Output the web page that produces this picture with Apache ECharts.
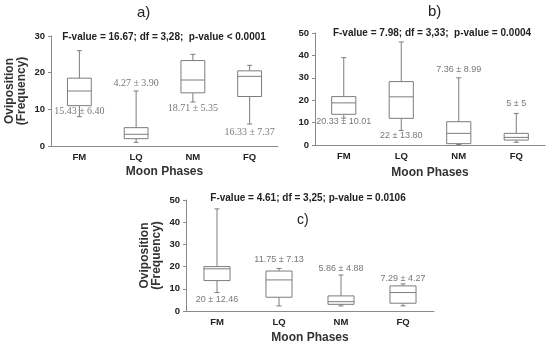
<!DOCTYPE html>
<html><head><meta charset="utf-8">
<script src="https://cdn.jsdelivr.net/npm/echarts@6/dist/echarts.min.js"></script>
<style>html,body{margin:0;padding:0;background:#fff}#c{width:550px;height:345px}</style>
</head><body><div id="c"></div>
<script>
// ---------- data ----------
const categories = ['FM', 'LQ', 'NM', 'FQ'];
// [min, Q1, median, Q3, max]
const boxA = [[8, 11, 15, 18.5, 26], [1, 2, 3.2, 5, 15], [12, 14.5, 18, 23.3, 25], [6, 13.5, 19, 20.5, 22]];
const boxB = [[12, 13.7, 18.8, 21.6, 39], [6.5, 11.9, 21.5, 28.3, 46], [0.2, 0.6, 5.2, 10.4, 30], [1.2, 2.2, 3.4, 5.2, 14.1]];
const boxC = [[8.3, 13.7, 19, 20, 46], [2.3, 6.2, 14, 18, 19.2], [2.3, 3, 4.2, 6.8, 16.2], [2.3, 3.5, 8.3, 11.3, 12.2]];
// mean ± sd annotations and the value they sit at
const labelsA = ['15.43 ± 6.40', '4.27 ± 3.90', '18.71 ± 5.35', '16.33 ± 7.37'];
const labelYA = [9.4, 17.2, 10.3, 3.7];
const labelsB = ['20.33 ± 10.01', '22 ± 13.80', '7.36 ± 8.99', '5 ± 5'];
const labelYB = [10.4, 4.2, 33.5, 18.3];
const labelsC = ['20 ± 12.46', '11.75 ± 7.13', '5.86 ± 4.88', '7.29 ± 4.27'];
const labelYC = [5, 23, 19.2, 14.7];
const yTicksA = {max: 30, interval: 10};
const yTicksBC = {max: 50, interval: 10};
const statA = 'F-value = 16.67; df = 3,28;  p-value < 0.0001';
const statB = 'F-value = 7.98; df = 3,33;  p-value = 0.0004';
const statC = 'F-value = 4.61; df = 3,25; p-value = 0.0106';

// ---------- chart ----------
const axisColor = '#8a8a8a';
const boxColor = '#7c7c7c';
const grids = [
  {left: 51, right: 272, top: 36, bottom: 199},
  {left: 315, right: 5, top: 33, bottom: 200},
  {left: 186, right: 116, top: 200, bottom: 34}
];
const nameGaps = [20, 22, 21];
function xAx(i) {
  return {
    type: 'category', gridIndex: i, data: categories,
    axisLine: {lineStyle: {color: axisColor}},
    axisTick: {lineStyle: {color: axisColor}, length: 3},
    axisLabel: {color: '#222', fontWeight: 'bold', fontSize: 9.5, fontFamily: 'Liberation Sans', margin: 6},
    name: 'Moon Phases', nameLocation: 'middle', nameGap: nameGaps[i],
    nameTextStyle: {color: '#333', fontWeight: 'bold', fontSize: 12, fontFamily: 'Liberation Sans'}
  };
}
function yAx(i, t, withName) {
  const o = {
    type: 'value', gridIndex: i, min: 0, max: t.max, interval: t.interval,
    splitLine: {show: false},
    axisLine: {show: true, lineStyle: {color: axisColor}},
    axisTick: {show: true, lineStyle: {color: axisColor}, length: 3},
    axisLabel: {color: '#222', fontWeight: 'bold', fontSize: 9.5, fontFamily: 'Liberation Sans', margin: 6}
  };
  if (withName) {
    o.name = 'Oviposition\n(Frequency)';
    o.nameLocation = 'middle';
    o.nameGap = 23;
    o.nameTextStyle = {color: '#333', fontWeight: 'bold', fontSize: 12, fontFamily: 'Liberation Sans', lineHeight: 12};
  }
  return o;
}
function renderBox(params, api) {
  const c = api.value(0);
  const mn = api.coord([c, api.value(1)]);
  const q1 = api.coord([c, api.value(2)]);
  const md = api.coord([c, api.value(3)]);
  const q3 = api.coord([c, api.value(4)]);
  const mx = api.coord([c, api.value(5)]);
  const w = api.size([1, 0])[0] * 0.42;
  const cap = 2.5;
  const x = mn[0];
  const st = {stroke: boxColor, lineWidth: 1, fill: null};
  return {
    type: 'group',
    children: [
      {type: 'line', shape: {x1: x, y1: q3[1], x2: x, y2: mx[1]}, style: st},
      {type: 'line', shape: {x1: x, y1: q1[1], x2: x, y2: mn[1]}, style: st},
      {type: 'line', shape: {x1: x - cap, y1: mx[1], x2: x + cap, y2: mx[1]}, style: st},
      {type: 'line', shape: {x1: x - cap, y1: mn[1], x2: x + cap, y2: mn[1]}, style: st},
      {type: 'rect', shape: {x: x - w / 2, y: q3[1], width: w, height: q1[1] - q3[1]}, style: {stroke: boxColor, lineWidth: 1, fill: '#fff'}},
      {type: 'line', shape: {x1: x - w / 2, y1: md[1], x2: x + w / 2, y2: md[1]}, style: st}
    ]
  };
}
function boxSeries(i, box) {
  return {
    type: 'custom', xAxisIndex: i, yAxisIndex: i, renderItem: renderBox,
    encode: {x: 0, y: [1, 2, 3, 4, 5]},
    data: box.map((b, k) => [k].concat(b)), z: 2
  };
}
function labelSeries(i, texts, ys, font, size) {
  return {
    type: 'scatter', xAxisIndex: i, yAxisIndex: i, symbolSize: 0, z: 3,
    data: texts.map((t, k) => ({value: [k, ys[k]], name: t})),
    label: {show: true, position: 'inside', formatter: p => p.name, color: '#555', fontSize: size, fontFamily: font}
  };
}
const chart = echarts.init(document.getElementById('c'), null, {renderer: 'canvas'});
chart.setOption({
  animation: false,
  grid: grids,
  xAxis: [xAx(0), xAx(1), xAx(2)],
  yAxis: [yAx(0, yTicksA, true), yAx(1, yTicksBC, false), yAx(2, yTicksBC, true)],
  series: [
    boxSeries(0, boxA), boxSeries(1, boxB), boxSeries(2, boxC),
    labelSeries(0, labelsA, labelYA, 'Liberation Serif', 10),
    labelSeries(1, labelsB, labelYB, 'Liberation Sans', 9),
    labelSeries(2, labelsC, labelYC, 'Liberation Sans', 9)
  ],
  graphic: [
    {type: 'text', left: 137, top: 5, style: {text: 'a)', font: '15px "Liberation Sans"', fill: '#222'}},
    {type: 'text', left: 428, top: 4, style: {text: 'b)', font: '15px "Liberation Sans"', fill: '#222'}},
    {type: 'text', left: 297, top: 213, style: {text: 'c)', font: '14px "Liberation Sans"', fill: '#222'}},
    {type: 'text', x: 164, y: 37, style: {text: statA, font: 'bold 10px "Liberation Sans"', fill: '#222', align: 'center', verticalAlign: 'middle'}},
    {type: 'text', x: 432, y: 33, style: {text: statB, font: 'bold 10px "Liberation Sans"', fill: '#222', align: 'center', verticalAlign: 'middle'}},
    {type: 'text', x: 308, y: 198, style: {text: statC, font: 'bold 10px "Liberation Sans"', fill: '#222', align: 'center', verticalAlign: 'middle'}}
  ]
});
</script>
</body></html>
